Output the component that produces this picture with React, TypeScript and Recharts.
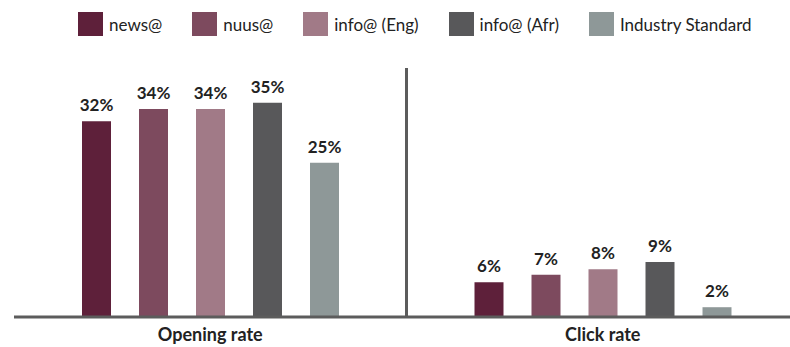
import { BarChart, Bar, XAxis, YAxis, CartesianGrid, Legend, LabelList } from 'recharts';

document.body.style.margin = '0';

const categories = ['Opening rate', 'Click rate'];

const seriesNames = ['news@', 'nuus@', 'info@ (Eng)', 'info@ (Afr)', 'Industry Standard'];
const newsValues = [32, 5.7];
const nuusValues = [34, 6.9];
const infoEngValues = [34, 7.8];
const infoAfrValues = [35, 9];
const industryValues = [25.2, 1.6];

const COLORS = ['#5e203a', '#7d4a5e', '#a17a87', '#58585a', '#8e9898'];
const AXIS = '#5c5c5c';
const FONT = 'Lato, "Noto Sans", sans-serif';

const seriesValues = [newsValues, nuusValues, infoEngValues, infoAfrValues, industryValues];
const keys = ['s0', 's1', 's2', 's3', 's4'];

const data = categories.map((name, i) => {
  const row: Record<string, string | number> = { name };
  keys.forEach((k, j) => {
    row[k] = seriesValues[j][i];
  });
  return row;
});

function LegendContent() {
  return (
    <div style={{ height: 68, display: 'flex', paddingLeft: 64, paddingTop: 12, boxSizing: 'border-box' }}>
      {seriesNames.map((name, i) => (
        <div key={name} style={{ display: 'flex', alignItems: 'center', height: 24, marginRight: 30 }}>
          <span style={{ width: 25, height: 24, background: COLORS[i], display: 'inline-block', marginRight: 6 }} />
          <span style={{ fontFamily: FONT, fontSize: 17, color: '#222' }}>{name}</span>
        </div>
      ))}
    </div>
  );
}

export default function App() {
  return (
    <div style={{ width: 790, height: 347, overflow: 'hidden', background: '#fff' }}>
      <BarChart
        width={799}
        height={347}
        data={data}
        margin={{ top: 0, right: 0, bottom: 0, left: 14 }}
        barSize={29}
        barGap={28}
      >
        <Legend verticalAlign="top" align="left" content={<LegendContent />} />
        <CartesianGrid
          horizontal={false}
          stroke={AXIS}
          strokeWidth={3}
          strokeDasharray=""
          verticalCoordinatesGenerator={({ offset }: any) => [offset.left + offset.width / 2]}
        />
        <XAxis
          dataKey="name"
          axisLine={{ stroke: AXIS, strokeWidth: 3 }}
          tickLine={false}
          tickMargin={5}
          tick={{ fontFamily: FONT, fontSize: 18, fontWeight: 700, fill: '#222' }}
        />
        <YAxis
          width={0}
          domain={[0, 40.7]}
          tick={false}
          tickLine={false}
          axisLine={{ stroke: AXIS, strokeWidth: 3 }}
        />
        {keys.map((k, j) => (
          <Bar key={k} dataKey={k} name={seriesNames[j]} fill={COLORS[j]} isAnimationActive={false}>
            <LabelList
              dataKey={k}
              position="top"
              offset={10}
              formatter={(v: any) => `${Math.round(Number(v))}%`}
              style={{ fontFamily: FONT, fontSize: 17, fontWeight: 700, fill: '#222' }}
            />
          </Bar>
        ))}
      </BarChart>
    </div>
  );
}
